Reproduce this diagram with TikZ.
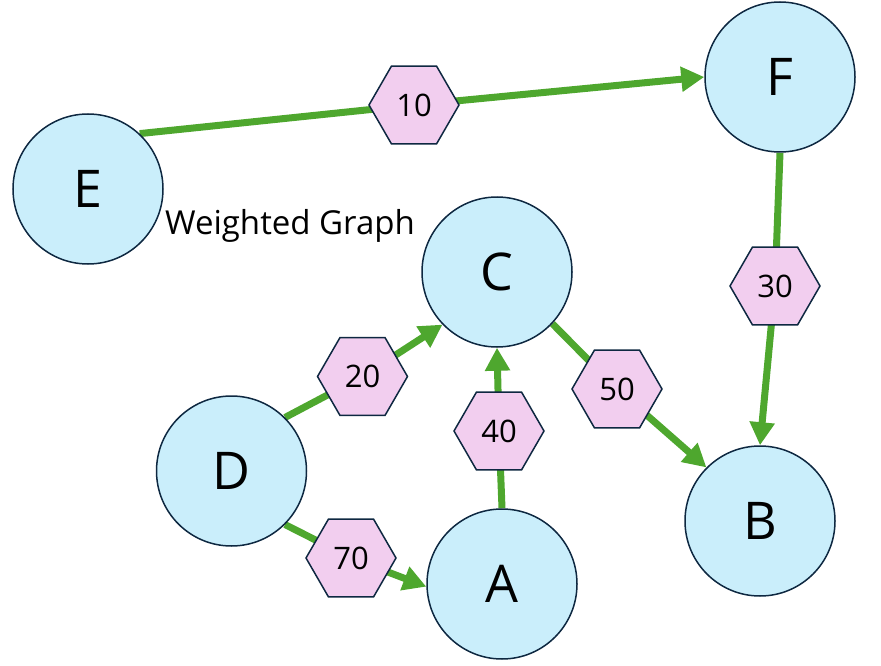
\documentclass[tikz,border=0pt]{standalone}
\usepackage{fontspec}
\setmainfont{Open Sans}
\usetikzlibrary{shapes.geometric,arrows.meta,backgrounds}
\definecolor{edgegreen}{HTML}{4EA72E}
\definecolor{nodefill}{HTML}{CAEEFB}
\definecolor{hexfill}{HTML}{F2CEEF}
\definecolor{outline}{HTML}{0E2841}
\tikzset{
  vertex/.style={circle,draw=outline,line width=1.5pt,fill=nodefill,minimum size=150pt,inner sep=0pt,font=\fontsize{52}{62}\selectfont},
  weight/.style={regular polygon,regular polygon sides=6,draw=outline,line width=1.5pt,fill=hexfill,minimum size=90pt,inner sep=0pt,font=\fontsize{31}{37}\selectfont},
  link/.style={draw=edgegreen,line width=7pt},
  arc/.style={link,-{Triangle[length=23pt,width=24pt]}}
}
\begin{document}
\begin{tikzpicture}[x=1pt,y=-1pt]
\useasboundingbox (0,0) rectangle (881,666);
\node[vertex] (E) at (88,189) {E};
\node[vertex] (F) at (780,77) {F};
\node[vertex] (C) at (497,272) {C};
\node[vertex] (D) at (231.5,471) {D};
\node[vertex] (A) at (502,584) {A};
\node[vertex] (B) at (760,521) {B};
\node[weight] (h10) at (414,105) {10};
\node[weight] (h30) at (775,286) {30};
\node[weight] (h20) at (362.5,376.5) {20};
\node[weight] (h50) at (617,389) {50};
\node[weight] (h40) at (499,431) {40};
\node[weight] (h70) at (351,558) {70};
\node[font=\fontsize{33}{40}\selectfont] (title) at (290,226) {Weighted Graph};
\begin{scope}[on background layer]
\draw[link] (E.47) -- (h10.center);
\draw[arc] (h10.center) -- (F.west);
\draw[link] (F.south) -- (h30.center);
\draw[arc] (h30.center) -- (B.north);
\draw[link] (C.-43) -- (h50.center);
\draw[arc] (h50.center) -- (B.135);
\draw[link] (D.45) -- (h20.center);
\draw[arc] (h20.center) -- (C.224);
\draw[link] (A.north) -- (h40.center);
\draw[arc] (h40.center) -- (C.south);
\draw[link] (D.-45) -- (h70.center);
\draw[arc] (h70.center) -- (A.182);
\end{scope}
\end{tikzpicture}
\end{document}
